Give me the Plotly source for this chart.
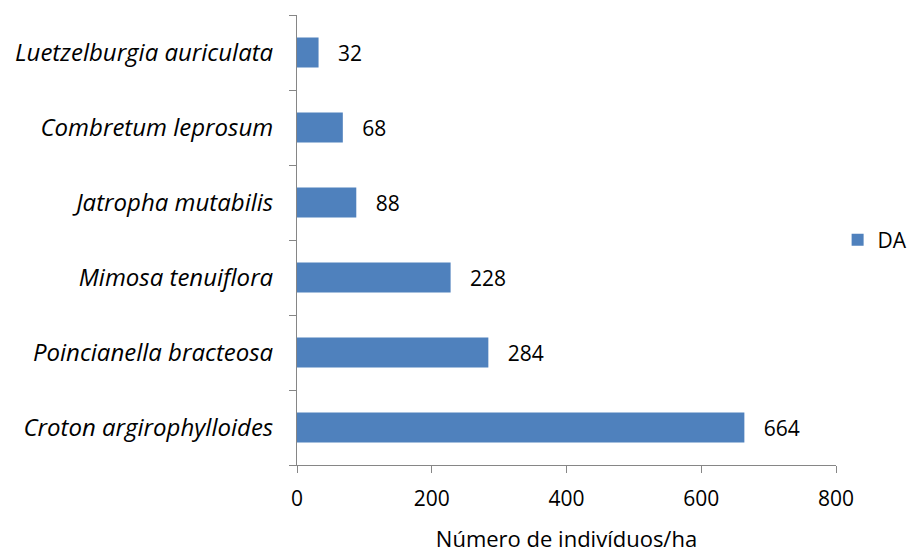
import plotly.graph_objects as go

species = ["Croton argirophylloides", "Poincianella bracteosa", "Mimosa tenuiflora",
           "Jatropha mutabilis", "Combretum leprosum", "Luetzelburgia auriculata"]
da_values = [664, 284, 228, 88, 68, 32]
x_ticks = [0, 200, 400, 600, 800]

FONT = "'Open Sans', sans-serif"
AXIS_COLOR = "#868686"

fig = go.Figure()
fig.add_trace(go.Bar(
    y=species, x=da_values, orientation="h", name="DA",
    marker=dict(color="#4F81BD", line=dict(color="#4F81BD", width=0)),
    text=da_values, texttemplate="   %{x}", textposition="outside",
    textfont=dict(size=21, color="black", family=FONT),
    cliponaxis=False,
))

fig.update_layout(
    width=916, height=553,
    margin=dict(l=297, r=80, t=15, b=88, autoexpand=False),
    paper_bgcolor="white", plot_bgcolor="white",
    bargap=0.6,
    font=dict(family=FONT, color="black"),
    showlegend=True,
    legend=dict(x=1.003, y=0.5, xanchor="left", yanchor="middle",
                font=dict(size=21, family=FONT, color="black"),
                itemwidth=30, bgcolor="rgba(0,0,0,0)"),
    xaxis=dict(
        range=[0, 800], tickvals=x_ticks, showgrid=False, zeroline=False,
        showline=True, linecolor=AXIS_COLOR, linewidth=1,
        ticks="outside", ticklen=7, tickcolor=AXIS_COLOR,
        tickfont=dict(size=21, family=FONT, color="black"),
        ticklabelstandoff=8,
        title=dict(text="Número de indivíduos/ha", font=dict(size=22, family=FONT, color="black"), standoff=24),
    ),
    yaxis=dict(
        categoryorder="array", categoryarray=species,
        showgrid=False, zeroline=False,
        showline=True, linecolor=AXIS_COLOR, linewidth=1,
        ticks="outside", ticklen=7, tickcolor=AXIS_COLOR, tickson="boundaries",
        tickfont=dict(size=24, family=FONT, color="black", style="italic"),
        ticklabelstandoff=18,
    ),
)

fig.write_html("out.html", config={"displayModeBar": False},
               post_script="document.body.style.margin='0';document.body.style.overflow='hidden';")
